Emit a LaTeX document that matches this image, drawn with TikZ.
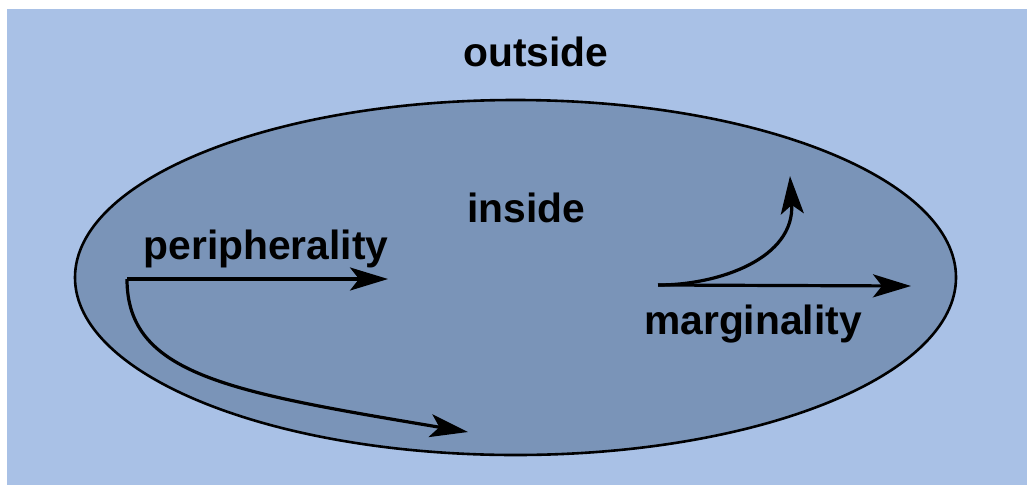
\documentclass[tikz,border=0pt]{standalone}
\usepackage{fontspec}
\setmainfont{Liberation Sans}
\usepackage{xcolor}
\definecolor{outerblue}{RGB}{169, 193, 230}
\definecolor{innerblue}{RGB}{122, 148, 184}
\usepackage{tikz}
\usetikzlibrary{arrows.meta, positioning, calc}

\begin{document}
\begin{tikzpicture}[
  x=1pt, y=-1pt,
  every node/.style = {font=\fontsize{40.8}{48}\selectfont\bfseries, inner sep=0pt},
  % text styles
  word/.style  = {anchor=base, text=black},
  % arrow styles
  arr/.style   = {-{Stealth[length=38pt, width=23pt, inset=9pt]}, line width=3.2pt, color=black},
]

%% Frame and region
\fill[white] (0,0) rectangle (1027,485);
\fill[outerblue] (7,9) rectangle (1027,485);
\draw[line width=2.6pt, fill=innerblue] (515.5,277.5) ellipse [x radius=440.5, y radius=177.5];

%% Labels
\node[word] (outside) at (536,66)  {outside};
\node[word] (inside)  at (526,222) {inside};
\node[word] (periph)  at (266,259) {peripherality};
\node[word] (margin)  at (753,334) {marginality};

%% Arrow ends
\coordinate (pstart) at (127,279);
\coordinate (pright) at (388,279);
\coordinate (pdown)  at (468,432);
\coordinate (mstart) at (658,285);
\coordinate (mright) at (911,286);
\coordinate (mup)    at (790,176);

%% Peripherality arrows
\draw[arr] (pstart) -- (pright);
\draw[arr] (pstart) .. controls (127,375) and (230,392) .. (pdown);

%% Marginality arrows
\draw[arr] (mstart) -- (mright);
\draw[arr] (mstart) .. controls (720,285) and (795,258) .. (mup);

\end{tikzpicture}
\end{document}
